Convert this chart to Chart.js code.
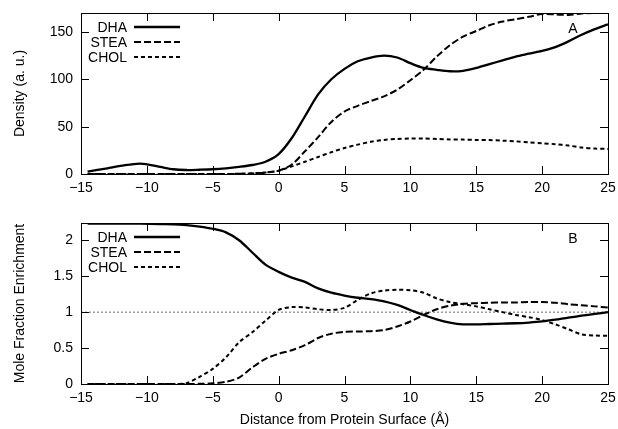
<!DOCTYPE html>
<html>
<head>
<meta charset="utf-8">
<script src="https://cdn.jsdelivr.net/npm/chart.js@4/dist/chart.umd.min.js"></script>
<style>
  html, body { margin: 0; padding: 0; background: #fff; }
  #wrap { position: relative; width: 618px; height: 429px; }
  #top { position: absolute; left: 0; top: 0; }
  #bot { position: absolute; left: 0; top: 210px; }
</style>
</head>
<body>
<div id="wrap">
  <canvas id="top" width="618" height="200"></canvas>
  <canvas id="bot" width="618" height="219"></canvas>
</div>
<script>
// ---- data ----
const distance = [-14.5,-13,-12,-10.5,-9,-8,-7,-6,-5,-4,-3,-2,-1,0,1,2,3,4,5,6,7,8,9,10,11,12,13,14,15,16,17,18,19,20,21,22,23,24,25];

const densityDHA  = [2.5,6,8.5,11,7.5,5,4.2,4.5,5,6,7.5,9.5,13,21,38,61,84,100,111,119,123,125,123,117,112,110,108.5,109,112,116,120,124,127,130,134,140,147,153,158];
const densitySTEA = [0,0,0,0,0,0,0,0,0,0,0.2,0.5,1.5,3.5,10,24,39,55,66,72,77,82,89,99,110,124,136,145,151,157,161,163.5,166,169,168.5,168,169.5,170,170];
const densityCHOL = [0,0,0,0,0,0,0,0,0,0,0.3,0.8,1.5,3.5,8,13,18,23,27.5,31,34,36,37,37.5,37.5,37,36.5,36.3,36,35.8,35.2,34.5,33.5,32.5,31.5,30,28,26.8,26.5];

const enrichDHA  = [2.23,2.23,2.23,2.23,2.225,2.222,2.21,2.19,2.16,2.11,2.0,1.83,1.66,1.56,1.48,1.42,1.33,1.27,1.23,1.20,1.18,1.15,1.10,1.03,0.96,0.90,0.855,0.83,0.83,0.835,0.84,0.845,0.855,0.87,0.895,0.925,0.95,0.975,1.0];
const enrichSTEA = [0,0,0,0,0,0,0,0.003,0.01,0.03,0.09,0.23,0.35,0.42,0.47,0.54,0.64,0.70,0.725,0.73,0.735,0.75,0.80,0.87,0.96,1.04,1.09,1.115,1.125,1.13,1.135,1.135,1.14,1.14,1.13,1.11,1.095,1.08,1.065];
const enrichCHOL = [0,0,0,0,0,0,0.01,0.1,0.21,0.37,0.58,0.72,0.88,1.03,1.07,1.065,1.04,1.03,1.06,1.17,1.26,1.30,1.31,1.305,1.27,1.19,1.14,1.11,1.08,1.04,1.0,0.96,0.93,0.89,0.83,0.76,0.69,0.675,0.67];

const seriesNames = ['DHA', 'STEA', 'CHOL'];
const distTicks = [-15,-10,-5,0,5,10,15,20,25];
const densityTicks = [0,50,100,150];
const enrichTicks = [0,0.5,1,1.5,2];
const referenceLevel = [1];

// ---- helpers ----
const FONT = "'Liberation Sans', Arial, Helvetica, sans-serif";
const pts = (ys) => ys.map((y, i) => ({ x: distance[i], y }));
const fmt = (v) => String(v).replace('-', '\u2212');

const styles = [
  { borderDash: [], borderWidth: 2.3 },
  { borderDash: [7, 3], borderWidth: 2 },
  { borderDash: [4, 3], borderWidth: 2 }
];

function makeDatasets(arrs) {
  return arrs.map((a, i) => ({
    label: seriesNames[i],
    data: pts(a),
    borderColor: '#000',
    backgroundColor: '#000',
    borderWidth: styles[i].borderWidth,
    borderDash: styles[i].borderDash,
    pointRadius: 0,
    tension: 0.3,
    fill: false
  }));
}

const frame = {
  id: 'frame',
  afterDatasetsDraw(chart, args, opts) {
    const { ctx, chartArea: a, scales } = chart;
    ctx.save();
    ctx.strokeStyle = '#000';
    ctx.lineWidth = 1;
    const T = 8;
    ctx.beginPath();
    scales.x.ticks.forEach(t => {
      const px = Math.round(scales.x.getPixelForValue(t.value)) + 0.5;
      ctx.moveTo(px, a.bottom); ctx.lineTo(px, a.bottom - T);
      ctx.moveTo(px, a.top); ctx.lineTo(px, a.top + T);
    });
    scales.y.ticks.forEach(t => {
      const py = Math.round(scales.y.getPixelForValue(t.value)) + 0.5;
      ctx.moveTo(a.left, py); ctx.lineTo(a.left + T, py);
      ctx.moveTo(a.right, py); ctx.lineTo(a.right - T, py);
    });
    ctx.stroke();
    ctx.strokeRect(Math.round(a.left) + 0.5, Math.round(a.top) + 0.5,
                   Math.round(a.right - a.left), Math.round(a.bottom - a.top));
    // legend
    ctx.font = '14px ' + FONT;
    ctx.fillStyle = '#000';
    ctx.textBaseline = 'middle';
    ctx.textAlign = 'right';
    chart.data.datasets.forEach((ds, i) => {
      if (!seriesNames.includes(ds.label)) return;
      const y = a.top + 14 + i * 15;
      ctx.fillText(ds.label, a.left + 46, y + 1);
      ctx.save();
      ctx.lineWidth = ds.borderWidth;
      ctx.setLineDash(ds.borderDash);
      ctx.beginPath();
      ctx.moveTo(a.left + 53, y);
      ctx.lineTo(a.left + 99, y);
      ctx.stroke();
      ctx.restore();
    });
    // panel letter
    ctx.textAlign = 'center';
    ctx.fillText(opts.letter, a.right - 35, a.top + 16);
    ctx.restore();
  }
};

function makeChart(id, datasets, yTicks, yMax, yTitle, letter, xTitle, xHeight) {
  return new Chart(document.getElementById(id), {
    type: 'line',
    data: { datasets },
    options: {
      responsive: false,
      animation: false,
      devicePixelRatio: 1,
      layout: { padding: { top: 13, right: 10, left: 0, bottom: 0 } },
      plugins: { legend: { display: false }, tooltip: { enabled: false }, frame: { letter } },
      scales: {
        x: {
          type: 'linear', min: -15, max: 25,
          afterBuildTicks: s => { s.ticks = distTicks.map(v => ({ value: v })); },
          afterFit: s => { s.height = xHeight; s.paddingRight = 0; s.paddingLeft = 0; },
          grid: { display: false, drawTicks: false },
          border: { display: false },
          ticks: { color: '#000', font: { family: FONT, size: 14 }, padding: 6, callback: v => fmt(v), maxRotation: 0 },
          title: { display: !!xTitle, text: xTitle || '', color: '#000', font: { family: FONT, size: 14 }, padding: { top: 0, bottom: 0 } }
        },
        y: {
          type: 'linear', min: 0, max: yMax,
          afterBuildTicks: s => { s.ticks = yTicks.map(v => ({ value: v })); },
          afterFit: s => { s.width = 81; s.paddingTop = 0; s.paddingBottom = 0; },
          grid: { display: false, drawTicks: false },
          border: { display: false },
          ticks: { color: '#000', font: { family: FONT, size: 14 }, padding: 8, callback: v => fmt(v) },
          title: { display: true, text: yTitle, color: '#000', font: { family: FONT, size: 14 }, padding: { top: 12, bottom: 0 } }
        }
      }
    },
    plugins: [frame]
  });
}

makeChart('top', makeDatasets([densityDHA, densitySTEA, densityCHOL]), densityTicks, 170,
  'Density (a. u.)', 'A', null, 26);

const botSets = makeDatasets([enrichDHA, enrichSTEA, enrichCHOL]);
botSets.push({
  label: 'reference',
  data: [{ x: -15, y: referenceLevel[0] }, { x: 25, y: referenceLevel[0] }],
  borderColor: '#444', borderWidth: 0.8, borderDash: [2, 2], pointRadius: 0, fill: false
});
makeChart('bot', botSets, enrichTicks, 2.24,
  'Mole Fraction Enrichment', 'B', 'Distance from Protein Surface (\u00C5)', 45);
</script>
</body>
</html>
